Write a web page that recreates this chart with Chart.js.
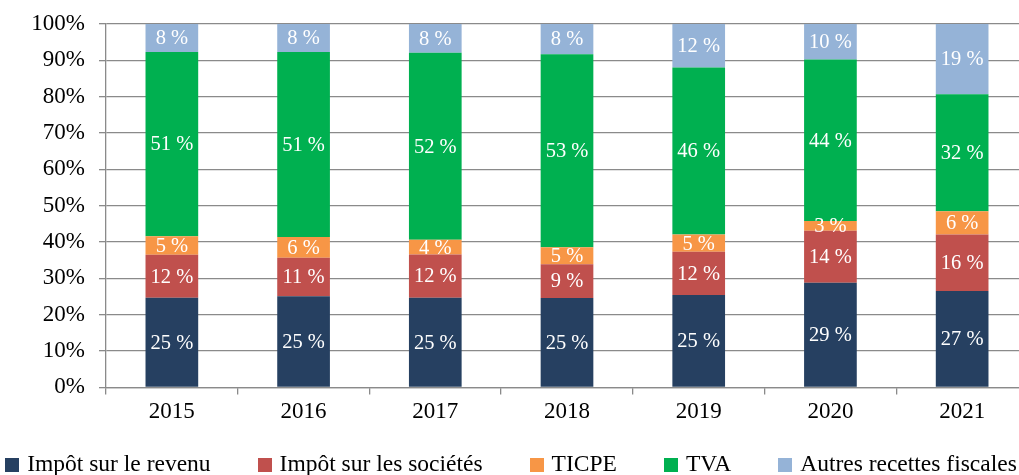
<!DOCTYPE html>
<html>
<head>
<meta charset="utf-8">
<script src="https://cdn.jsdelivr.net/npm/chart.js@4/dist/chart.umd.min.js"></script>
<style>
  html, body { margin: 0; padding: 0; background: #fff; overflow: hidden; }
  #wrap { position: relative; width: 1019px; height: 475px; overflow: hidden; }
  #chart { position: absolute; left: 0; top: 0; }
  #legend {
    position: absolute; left: 0; top: 450px; width: 1022px;
    display: flex; justify-content: center; gap: 47px;
    font-family: 'Liberation Serif', 'Times New Roman', serif;
    font-size: 23.5px; line-height: 27px; color: #000; white-space: nowrap;
  }
  .item { display: flex; align-items: center; }
  .box { width: 14px; height: 14px; margin-right: 8px; margin-top: 2px; }
</style>
</head>
<body>
<div id="wrap">
  <canvas id="chart" width="1029" height="475"></canvas>
  <div id="legend"></div>
</div>
<script>
// Years on the x axis
const years = ["2015", "2016", "2017", "2018", "2019", "2020", "2021"];

// Share of each tax in total receipts (%)
const impotRevenu = [24.7, 25.1, 24.7, 24.6, 25.4, 28.8, 26.5];
const impotSocietes = [11.8, 10.6, 11.9, 9.3, 11.9, 14.3, 15.6];
const ticpe = [5.1, 5.7, 4.0, 4.7, 4.8, 2.7, 6.4];
const tva = [50.7, 50.9, 51.5, 53.1, 45.9, 44.4, 32.2];
const autres = [7.7, 7.7, 7.9, 8.3, 12.0, 9.8, 19.3];

// Y axis ticks
const yTicks = [0, 10, 20, 30, 40, 50, 60, 70, 80, 90, 100];

const seriesNames = [
  "Impôt sur le revenu",
  "Impôt sur les sociétés",
  "TICPE",
  "TVA",
  "Autres recettes fiscales",
];
const seriesColors = ["#264061", "#C0504D", "#F79646", "#00B050", "#95B3D7"];
const seriesData = [impotRevenu, impotSocietes, ticpe, tva, autres];

const FONT = "'Liberation Serif', 'Times New Roman', serif";
const GRID = "#8a8a8a";

Chart.defaults.font.family = FONT;
Chart.defaults.color = "#000";

// white value labels in the middle of each segment
const barLabels = {
  id: "barLabels",
  afterDatasetsDraw(chart) {
    const ctx = chart.ctx;
    ctx.save();
    ctx.font = "20.5px " + FONT;
    ctx.fillStyle = "#fff";
    ctx.textAlign = "center";
    ctx.textBaseline = "middle";
    chart.data.datasets.forEach((ds, i) => {
      chart.getDatasetMeta(i).data.forEach((bar, j) => {
        const { x, y, base } = bar.getProps(["x", "y", "base"], true);
        ctx.fillText(Math.round(ds.data[j]) + " %", x, (y + base) / 2 + 1);
      });
    });
    ctx.restore();
  },
};

const chart = new Chart(document.getElementById("chart"), {
  type: "bar",
  data: {
    labels: years,
    datasets: seriesData.map((d, i) => ({
      label: seriesNames[i],
      data: d,
      backgroundColor: seriesColors[i],
      borderWidth: 0,
      categoryPercentage: 1,
      barPercentage: 0.4,
    })),
  },
  options: {
    responsive: false,
    animation: false,
    layout: { padding: { top: 24, right: 1, bottom: 45, left: 0 } },
    plugins: { legend: { display: false }, tooltip: { enabled: false } },
    scales: {
      x: {
        stacked: true,
        grid: {
          drawOnChartArea: false,
          drawTicks: true,
          tickLength: 7,
          color: GRID,
          lineWidth: 1.3,
        },
        border: { color: GRID, width: 1.3 },
        ticks: { font: { size: 23 }, padding: 4, color: "#000" },
      },
      y: {
        stacked: true,
        min: 0,
        max: 100,
        afterBuildTicks: (scale) => {
          scale.ticks = yTicks.map((v) => ({ value: v }));
        },
        afterFit: (scale) => {
          scale.width = 106;
          scale.paddingTop = 0;
          scale.paddingBottom = 0;
        },
        grid: { color: GRID, lineWidth: 1.3, tickLength: 7 },
        border: { color: GRID, width: 1.3 },
        ticks: {
          font: { size: 23 },
          padding: 14,
          color: "#000",
          callback: (v) => v + "%",
        },
      },
    },
  },
  plugins: [barLabels],
});

// html legend, built from the series arrays
document.getElementById("legend").innerHTML = seriesNames
  .map(
    (name, i) => `
    <div class="item">
      <div class="box" style="background:${seriesColors[i]}"></div>
      <span>${name}</span>
    </div>`
  )
  .join("");
</script>
</body>
</html>
